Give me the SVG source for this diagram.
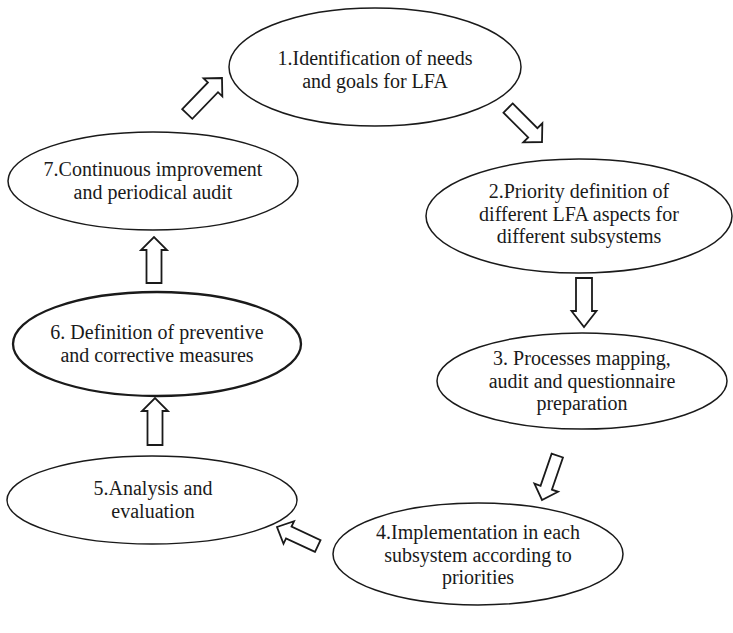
<svg xmlns="http://www.w3.org/2000/svg" width="733" height="633" viewBox="0 0 733 633">
<style>
.n ellipse{fill:#fff;stroke:#1a1a1a;stroke-width:1.5}
.n text{font-family:"Liberation Serif","DejaVu Serif",serif;font-size:20px;fill:#1a1a1a;text-anchor:middle}
#n6 ellipse{stroke-width:2.3}
#connectors polygon{fill:#fff;stroke:#1a1a1a;stroke-width:1.8;stroke-linejoin:miter}
</style>
<rect width="733" height="633" fill="#fff"/>
<g id="connectors">
<polygon id="a71" points="-50,-7 -13,-7 -13,-13 0,0 -13,13 -13,7 -50,7" transform="translate(222,78) rotate(-46)"/>
<polygon id="a12" points="-48,-6.5 -13,-6.5 -13,-13.5 0,0 -13,13.5 -13,6.5 -48,6.5" transform="translate(542,142) rotate(45)"/>
<polygon id="a23" points="-49,-8 -16,-8 -16,-12.5 0,0 -16,12.5 -16,8 -49,8" transform="translate(584,327) rotate(90)"/>
<polygon id="a34" points="-47,-6 -13,-6 -13,-12.5 0,0 -13,12.5 -13,6 -47,6" transform="translate(542,500) rotate(109)"/>
<polygon id="a45" points="-45,-6.5 -13,-6.5 -13,-12.5 0,0 -13,12.5 -13,6.5 -45,6.5" transform="translate(277,527) rotate(205)"/>
<polygon id="a56" points="-47,-7.5 -13,-7.5 -13,-13 0,0 -13,13 -13,7.5 -47,7.5" transform="translate(155,398) rotate(-90)"/>
<polygon id="a67" points="-46,-7.5 -13,-7.5 -13,-13 0,0 -13,13 -13,7.5 -46,7.5" transform="translate(154,237) rotate(-90)"/>
</g>
<g id="n1" class="n"><ellipse cx="375" cy="67" rx="146" ry="59"/><text x="375" y="65">1.Identification of needs</text><text x="375" y="88">and goals for LFA</text></g>
<g id="n2" class="n"><ellipse cx="579" cy="216" rx="153" ry="57"/><text x="579" y="198">2.Priority definition of</text><text x="579" y="220.5">different LFA aspects for</text><text x="579" y="243">different subsystems</text></g>
<g id="n3" class="n"><ellipse cx="582" cy="381" rx="145" ry="48"/><text x="582" y="365">3. Processes mapping,</text><text x="582" y="387.5">audit and questionnaire</text><text x="582" y="410">preparation</text></g>
<g id="n4" class="n"><ellipse cx="478" cy="554" rx="145" ry="51"/><text x="478" y="539">4.Implementation in each</text><text x="478" y="561.5">subsystem according to</text><text x="478" y="584">priorities</text></g>
<g id="n5" class="n"><ellipse cx="152" cy="500" rx="145" ry="44"/><text x="153" y="495">5.Analysis and</text><text x="153" y="517.5">evaluation</text></g>
<g id="n6" class="n"><ellipse cx="157" cy="344" rx="144" ry="52"/><text x="157" y="339">6. Definition of preventive</text><text x="157" y="361.5">and corrective measures</text></g>
<g id="n7" class="n"><ellipse cx="153" cy="181" rx="145" ry="49"/><text x="153" y="176">7.Continuous improvement</text><text x="153" y="198.5">and periodical audit</text></g>
</svg>
